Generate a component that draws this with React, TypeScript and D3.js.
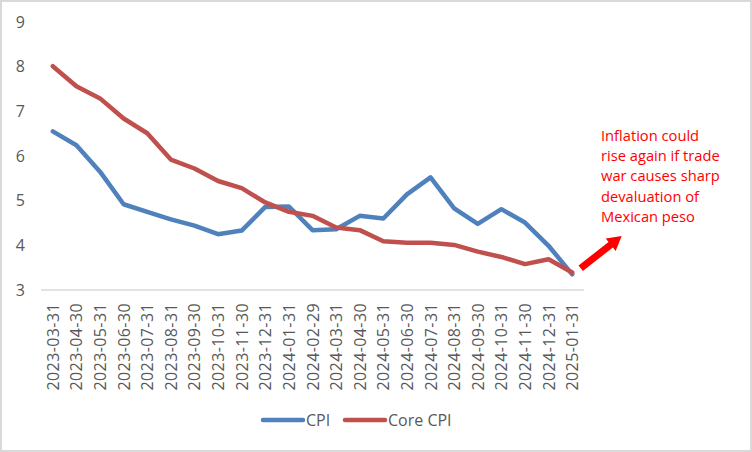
import React, { useEffect, useRef } from "react";
import * as d3 from "d3";

// monthly dates (x categories)
const dates = [
  "2023-03-31", "2023-04-30", "2023-05-31", "2023-06-30", "2023-07-31", "2023-08-31",
  "2023-09-30", "2023-10-31", "2023-11-30", "2023-12-31", "2024-01-31", "2024-02-29",
  "2024-03-31", "2024-04-30", "2024-05-31", "2024-06-30", "2024-07-31", "2024-08-31",
  "2024-09-30", "2024-10-31", "2024-11-30", "2024-12-31", "2025-01-31",
];

const cpi = [
  6.55, 6.24, 5.65, 4.92, 4.75, 4.58, 4.44, 4.25, 4.33, 4.86, 4.87, 4.34,
  4.36, 4.66, 4.60, 5.14, 5.52, 4.83, 4.48, 4.81, 4.51, 3.99, 3.35,
];

const coreCpi = [
  8.01, 7.56, 7.29, 6.84, 6.51, 5.92, 5.72, 5.44, 5.28, 4.96, 4.75, 4.66,
  4.40, 4.34, 4.09, 4.06, 4.06, 4.01, 3.86, 3.74, 3.58, 3.69, 3.39,
];

const yTicks = [3, 4, 5, 6, 7, 8, 9];

const noteLines = [
  "Inflation could",
  "rise again if trade",
  "war causes sharp",
  "devaluation of",
  "Mexican peso",
];

const series = [
  { name: "CPI", values: cpi, color: "#4F81BD" },
  { name: "Core CPI", values: coreCpi, color: "#C0504D" },
];

const W = 752;
const H = 452;
const FONT = "'Open Sans', sans-serif";

export default function App() {
  const ref = useRef<SVGSVGElement>(null);

  useEffect(() => {
    const svg = d3.select(ref.current);
    svg.selectAll("*").remove();

    // chart border
    svg.append("rect")
      .attr("x", 1).attr("y", 1)
      .attr("width", W - 2).attr("height", H - 2)
      .attr("fill", "white")
      .attr("stroke", "#D9D9D9")
      .attr("stroke-width", 2);

    const x = d3.scaleBand().domain(dates).range([41, 584]);
    const y = d3.scaleLinear().domain([3, 9]).range([290, 22]);

    // y labels
    svg.selectAll(".ylab")
      .data(yTicks)
      .join("text")
      .attr("class", "ylab")
      .attr("x", 25)
      .attr("y", (d) => y(d))
      .attr("dy", "0.36em")
      .attr("text-anchor", "end")
      .style("font-family", FONT)
      .style("font-size", "16px")
      .attr("fill", "#595959")
      .text((d) => d);

    // baseline
    svg.append("line")
      .attr("x1", 41).attr("x2", 584)
      .attr("y1", y(3)).attr("y2", y(3))
      .attr("stroke", "#D9D9D9")
      .attr("stroke-width", 1.5);

    // x labels, rotated
    svg.selectAll(".xlab")
      .data(dates)
      .join("text")
      .attr("class", "xlab")
      .attr("transform", (d) => `translate(${x(d)! + x.bandwidth() / 2 + 6},303) rotate(-90)`)
      .attr("text-anchor", "end")
      .style("font-family", FONT)
      .style("font-size", "16px")
      .style("letter-spacing", "0.4px")
      .attr("fill", "#595959")
      .text((d) => d);

    const line = d3.line<number>()
      .x((_, i) => x(dates[i])! + x.bandwidth() / 2)
      .y((d) => y(d));

    series.forEach((s) => {
      svg.append("path")
        .datum(s.values)
        .attr("d", line)
        .attr("fill", "none")
        .attr("stroke", s.color)
        .attr("stroke-width", 4.5)
        .attr("stroke-linejoin", "round")
        .attr("stroke-linecap", "round");
    });

    // legend
    const legend = svg.append("g").attr("transform", "translate(263,420)");
    const legX = [0, 82];
    series.forEach((s, i) => {
      const g = legend.append("g").attr("transform", `translate(${legX[i]},0)`);
      g.append("line")
        .attr("x1", 0).attr("x2", 40)
        .attr("stroke", s.color)
        .attr("stroke-width", 4.5)
        .attr("stroke-linecap", "round");
      g.append("text")
        .attr("x", 43)
        .attr("dy", "0.36em")
        .style("font-family", FONT)
        .style("font-size", "16px")
        .attr("fill", "#595959")
        .text(s.name);
    });

    // annotation
    svg.selectAll(".note")
      .data(noteLines)
      .join("text")
      .attr("class", "note")
      .attr("x", 601)
      .attr("y", (_, i) => 141 + i * 20.2)
      .style("font-family", FONT)
      .style("font-size", "14.7px")
      .attr("fill", "#FF0000")
      .text((d) => d);

    // arrow
    const x0 = 580.7, y0 = 268.3, x1 = 621.7, y1 = 236;
    const ang = Math.atan2(y1 - y0, x1 - x0);
    const len = Math.hypot(x1 - x0, y1 - y0);
    const ag = svg.append("g")
      .attr("transform", `translate(${x0},${y0}) rotate(${(ang * 180) / Math.PI})`);
    const head = 14;
    ag.append("path")
      .attr("d", `M0,-3.5 L${len - head},-3.5 L${len - head},-8 L${len},0 L${len - head},8 L${len - head},3.5 L0,3.5 Z`)
      .attr("fill", "#FF0000");
  }, []);

  return (
    <div style={{ position: "absolute", left: 0, top: 0 }}>
      <svg ref={ref} width={W} height={H} style={{ display: "block" }} />
    </div>
  );
}
